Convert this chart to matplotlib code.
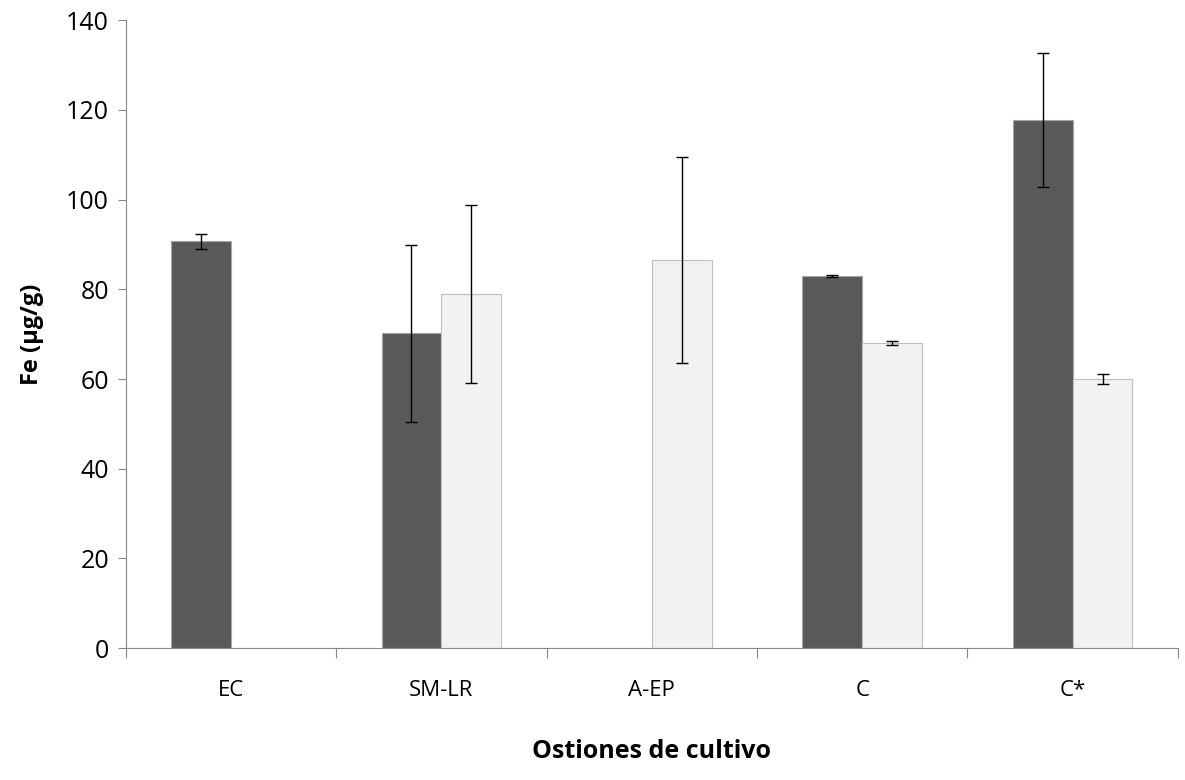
import matplotlib.pyplot as plt
import numpy as np

categories = ["EC", "SM-LR", "A-EP", "C", "C*"]
dark_vals = [90.7, 70.2, np.nan, 83.0, 117.8]
dark_err = [1.7, 19.7, np.nan, 0.2, 14.9]
light_vals = [np.nan, 79.0, 86.6, 68.0, 60.0]
light_err = [np.nan, 19.9, 23.0, 0.5, 1.2]

plt.rcParams['font.family'] = ['Open Sans', 'DejaVu Sans']

fig = plt.figure(figsize=(11.85, 7.8), dpi=100)
ax = fig.add_axes([0.106, 0.169, 0.888, 0.805])

x = np.arange(len(categories))
w = 0.284

ax.bar(x - w / 2, dark_vals, w, color="#595959", edgecolor="#a6a6a6", linewidth=0.8,
       yerr=dark_err, error_kw=dict(ecolor="black", elinewidth=1, capsize=4, capthick=1))
ax.bar(x + w / 2, light_vals, w, color="#f2f2f2", edgecolor="#bfbfbf", linewidth=0.8,
       yerr=light_err, error_kw=dict(ecolor="black", elinewidth=1, capsize=4, capthick=1))

ax.set_xlim(-0.5, len(categories) - 0.5)
ax.set_ylim(0, 140)
ax.set_yticks(np.arange(0, 141, 20))
ax.set_xticks(np.arange(-0.5, len(categories), 1.0))
ax.set_xticklabels([])
ax.set_xticks(x, minor=True)
ax.set_xticklabels(categories, minor=True)
ax.tick_params(axis="x", which="major", direction="out", length=7, color="#868686")
ax.tick_params(axis="x", which="minor", length=0, pad=23, labelsize=16)
ax.tick_params(axis="y", direction="out", length=6, color="#868686", labelsize=18, pad=6)

for s in ["top", "right"]:
    ax.spines[s].set_visible(False)
for s in ["left", "bottom"]:
    ax.spines[s].set_color("#868686")

ax.set_ylabel("Fe (μg/g)", fontsize=17, fontweight="bold", labelpad=16)
ax.set_xlabel("Ostiones de cultivo", fontsize=18, fontweight="bold")
ax.xaxis.set_label_coords(0.5, -0.145)

fig.savefig("out.png", dpi=100)
